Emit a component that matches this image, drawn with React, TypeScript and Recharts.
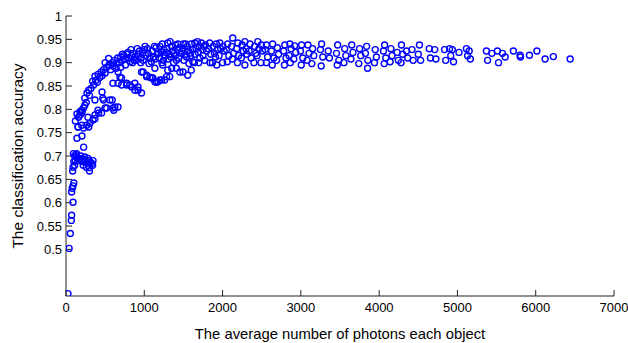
import { ScatterChart, Scatter, XAxis, YAxis, Label } from 'recharts'

const FONT = '"Liberation Sans", Arial, Helvetica, sans-serif'

const xTicks = [0, 1000, 2000, 3000, 4000, 5000, 6000, 7000]
const yTicks = [0.5, 0.55, 0.6, 0.65, 0.7, 0.75, 0.8, 0.85, 0.9, 0.95, 1]

// [photons, accuracy]
const risePoints: [number, number][] = [
  [25, 0.405], [40, 0.502], [55, 0.534], [68, 0.562], [72, 0.573], [90, 0.601],
  [72, 0.623], [80, 0.631], [90, 0.636], [100, 0.642],
  [95, 0.705], [110, 0.7], [125, 0.703], [140, 0.697], [120, 0.69], [100, 0.688],
  [150, 0.69], [165, 0.695], [180, 0.693], [200, 0.69], [215, 0.688], [230, 0.692],
  [250, 0.688], [270, 0.685], [290, 0.69], [310, 0.687], [330, 0.684], [345, 0.69],
  [220, 0.68], [260, 0.676], [300, 0.675], [340, 0.68], [110, 0.68], [90, 0.676],
  [135, 0.705], [190, 0.7], [240, 0.698], [280, 0.695], [85, 0.668], [300, 0.668],
  [225, 0.719], [140, 0.738], [204, 0.743], [153, 0.762], [225, 0.76], [290, 0.762],
  [120, 0.775], [140, 0.79], [160, 0.783], [180, 0.795], [205, 0.794], [225, 0.803],
  [240, 0.809], [240, 0.824], [260, 0.815], [268, 0.835], [290, 0.841], [300, 0.83],
  [320, 0.845], [353, 0.852], [340, 0.86], [370, 0.871], [380, 0.862], [400, 0.858],
  [410, 0.875], [430, 0.868], [450, 0.88], [460, 0.872], [480, 0.885], [500, 0.9],
  [500, 0.878], [520, 0.89], [545, 0.909], [550, 0.895], [570, 0.885], [590, 0.9],
  [600, 0.893], [620, 0.905], [640, 0.898], [660, 0.91], [680, 0.9], [700, 0.912],
  [720, 0.905], [740, 0.915], [760, 0.908], [780, 0.918], [800, 0.91], [820, 0.902],
  [840, 0.915], [860, 0.92], [880, 0.912], [900, 0.905], [920, 0.918], [940, 0.925],
  [960, 0.91], [980, 0.92], [760, 0.895], [700, 0.89], [640, 0.888], [850, 0.9],
  [720, 0.918], [790, 0.922], [830, 0.928], [870, 0.905], [910, 0.93], [955, 0.9],
]

const lowerBranch: [number, number][] = [
  [155, 0.762], [200, 0.766], [265, 0.766], [305, 0.77], [345, 0.777], [280, 0.783],
  [370, 0.78], [370, 0.788], [408, 0.798], [417, 0.792], [455, 0.792], [500, 0.803],
  [520, 0.803], [600, 0.803], [610, 0.798], [665, 0.805], [625, 0.805], [370, 0.82],
  [470, 0.824], [480, 0.82], [560, 0.82], [590, 0.82], [460, 0.837], [180, 0.788],
  [200, 0.798],
]

const middleBranch: [number, number][] = [
  [600, 0.856], [665, 0.856], [665, 0.88], [690, 0.869], [710, 0.867], [710, 0.852],
  [775, 0.856], [775, 0.852], [815, 0.852], [840, 0.848], [880, 0.856], [880, 0.841],
  [920, 0.848], [920, 0.841], [965, 0.835], [965, 0.88], [985, 0.88], [1030, 0.87],
  [1030, 0.873], [1070, 0.869], [1093, 0.867], [1110, 0.867], [1135, 0.859],
  [1155, 0.858], [1175, 0.859], [1200, 0.863], [1220, 0.863], [1260, 0.863],
  [1285, 0.87], [1325, 0.87], [1135, 0.888], [1235, 0.895], [1300, 0.884],
  [1350, 0.888], [1410, 0.888], [1455, 0.88], [1495, 0.88], [1555, 0.873], [1600, 0.884],
]

const plateauPoints: [number, number][] = [
  [1000, 0.928], [1020, 0.915], [985, 0.905], [1050, 0.92], [1070, 0.91], [1040, 0.93],
  [1100, 0.925], [1120, 0.912], [1090, 0.902], [1150, 0.932], [1165, 0.918], [1140, 0.908],
  [1200, 0.935], [1215, 0.922], [1190, 0.91], [1225, 0.9], [1250, 0.928], [1265, 0.915],
  [1245, 0.905], [1300, 0.942], [1290, 0.93], [1315, 0.918], [1305, 0.908], [1350, 0.935],
  [1365, 0.925], [1340, 0.912], [1375, 0.9], [1400, 0.938], [1420, 0.928], [1395, 0.915],
  [1410, 0.905], [1450, 0.932], [1470, 0.92], [1440, 0.91], [1500, 0.94], [1490, 0.93],
  [1520, 0.918], [1505, 0.905], [1550, 0.935], [1565, 0.925], [1540, 0.912], [1570, 0.898],
  [1600, 0.94], [1615, 0.928], [1590, 0.915], [1620, 0.902], [1645, 0.942], [1660, 0.93],
  [1650, 0.918], [1640, 0.9], [1700, 0.935], [1690, 0.922], [1710, 0.91], [1695, 0.9],
  [1730, 0.942], [1745, 0.928], [1750, 0.915], [1780, 0.938], [1795, 0.925], [1770, 0.905],
  [1835, 0.942], [1820, 0.93], [1850, 0.918], [1840, 0.9], [1880, 0.935], [1895, 0.92],
  [1870, 0.9], [1920, 0.94], [1935, 0.928], [1910, 0.912], [1925, 0.895], [1965, 0.942],
  [1975, 0.93], [1955, 0.915], [2005, 0.935], [2020, 0.925], [2000, 0.9], [2065, 0.94],
  [2050, 0.928], [2080, 0.915], [2060, 0.902], [2130, 0.953], [2115, 0.935], [2140, 0.92],
  [2125, 0.908], [2195, 0.942], [2180, 0.93], [2205, 0.915], [2190, 0.9], [2250, 0.938],
  [2265, 0.925], [2240, 0.91], [2285, 0.945], [2300, 0.93], [2310, 0.918], [2285, 0.895],
  [2350, 0.94], [2340, 0.925], [2365, 0.91], [2410, 0.935], [2425, 0.92], [2400, 0.9],
  [2450, 0.945], [2465, 0.93], [2440, 0.915], [2495, 0.938], [2510, 0.925], [2490, 0.9],
  [2560, 0.938], [2545, 0.928], [2575, 0.912], [2560, 0.9], [2640, 0.94], [2625, 0.925],
  [2655, 0.91], [2635, 0.895], [2700, 0.932], [2715, 0.918], [2690, 0.905], [2795, 0.938],
  [2780, 0.925], [2810, 0.91], [2790, 0.895], [2860, 0.94], [2875, 0.93], [2850, 0.915],
  [2865, 0.9], [2920, 0.936], [2935, 0.922], [2910, 0.908], [3010, 0.938], [2995, 0.925],
  [3025, 0.91], [3005, 0.895],
  [1010, 0.935], [1060, 0.898], [1130, 0.935], [1180, 0.92], [1230, 0.94], [1280, 0.922],
  [1330, 0.945], [1380, 0.92], [1430, 0.94], [1480, 0.925], [1530, 0.94], [1580, 0.92],
  [1680, 0.945], [1760, 0.935],
]

const tailPoints: [number, number][] = [
  [3090, 0.938], [3105, 0.92], [3080, 0.905], [3150, 0.93], [3165, 0.915], [3140, 0.898],
  [3265, 0.94], [3250, 0.928], [3280, 0.912], [3260, 0.893], [3350, 0.925], [3365, 0.91],
  [3470, 0.938], [3455, 0.92], [3485, 0.905], [3465, 0.895], [3560, 0.93], [3575, 0.915],
  [3550, 0.9], [3650, 0.938], [3665, 0.922], [3640, 0.908], [3750, 0.93], [3765, 0.915],
  [3740, 0.898], [3840, 0.935], [3825, 0.92], [3855, 0.905], [3852, 0.888], [3950, 0.928],
  [3965, 0.912], [3940, 0.9], [4070, 0.938], [4055, 0.925], [4085, 0.91], [4065, 0.898],
  [4150, 0.93], [4165, 0.915], [4140, 0.902], [4230, 0.922], [4245, 0.905], [4285, 0.938],
  [4300, 0.918], [4280, 0.9], [4350, 0.925], [4365, 0.91], [4420, 0.928], [4435, 0.905],
  [4515, 0.938], [4500, 0.918], [4530, 0.905], [4640, 0.93], [4655, 0.91], [4710, 0.928],
  [4725, 0.908], [4835, 0.928], [4850, 0.905], [4900, 0.93], [4915, 0.915], [4935, 0.928],
  [4950, 0.902], [5020, 0.922], [5115, 0.93], [5130, 0.915], [5150, 0.925], [5165, 0.908],
  [5370, 0.925], [5385, 0.905], [5440, 0.92], [5510, 0.925], [5525, 0.9], [5575, 0.92],
  [5610, 0.912], [5715, 0.925], [5800, 0.916], [5805, 0.912], [5920, 0.916], [6015, 0.925],
  [6120, 0.908], [6225, 0.913], [6440, 0.908],
]

const data = [...risePoints, ...lowerBranch, ...middleBranch, ...plateauPoints, ...tailPoints].map(
  ([x, y]) => ({ x, y })
)

const Ring = (props: any) => (
  <circle cx={props.cx} cy={props.cy} r={3} fill="none" stroke="#0000ff" strokeWidth={1.4} />
)

const tickStyle = { fill: '#000', fontSize: 13, fontFamily: FONT }
const blank = () => ''

export default function App() {
  return (
    <div style={{ position: 'absolute', left: 0, top: 0, width: 628, height: 343, background: '#fff' }}>
      <ScatterChart width={628} height={343} margin={{ top: 16, right: 14, bottom: 0, left: 0 }}>
        <XAxis
          xAxisId="b"
          dataKey="x"
          type="number"
          domain={[0, 7000]}
          ticks={xTicks}
          height={47}
          stroke="#222"
          tickSize={-6}
          tickMargin={13}
          tick={tickStyle}
          allowDataOverflow
        >
          <Label
            value="The average number of photons each object"
            position="insideBottom"
            offset={4}
            style={{ fill: '#000', fontSize: 14.8, fontFamily: FONT }}
          />
        </XAxis>
        <XAxis
          xAxisId="t"
          orientation="top"
          type="number"
          domain={[0, 7000]}
          ticks={xTicks}
          height={0}
          stroke="#222"
          tickSize={-6}
          tickFormatter={blank}
        />
        <YAxis
          yAxisId="l"
          dataKey="y"
          type="number"
          domain={[0.4, 1]}
          ticks={yTicks}
          width={66}
          stroke="#222"
          tickSize={-6}
          tickMargin={10}
          tick={tickStyle}
          allowDataOverflow
        >
          <Label
            value="The classification accuracy"
            angle={-90}
            position="insideLeft"
            offset={17}
            style={{ fill: '#000', fontSize: 15.5, fontFamily: FONT, textAnchor: 'middle' }}
          />
        </YAxis>
        <YAxis
          yAxisId="r"
          orientation="right"
          type="number"
          domain={[0.4, 1]}
          ticks={yTicks}
          width={0}
          stroke="#222"
          tickSize={-6}
          tickFormatter={blank}
        />
        <Scatter data={data} xAxisId="b" yAxisId="l" shape={Ring} isAnimationActive={false} />
      </ScatterChart>
    </div>
  )
}
